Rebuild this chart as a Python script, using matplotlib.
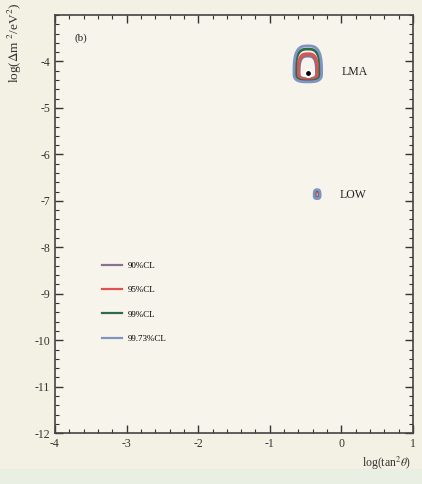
import numpy as np
import matplotlib.pyplot as plt
from matplotlib.lines import Line2D

# best fit points (log tan^2 theta, log dm^2) and 1-sigma widths
lma_best = (-0.47, -4.25)
lma_sig = (0.056, 0.17, 0.055)   # x, y upward, y downward
low_best = (-0.34, -6.88)
low_sig = (0.012, 0.035, 0.02)

cl_labels = ["90%CL", "95%CL", "99%CL", "99.73%CL"]
cl_dchi2 = [4.61, 5.99, 9.21, 11.83]
cl_colors = ["#8a6f96", "#e0524e", "#2f6b45", "#7f93c4"]

xticks = [-4, -3, -2, -1, 0, 1]
yticks = [-12, -11, -10, -9, -8, -7, -6, -5, -4]

plt.rcParams['font.family'] = ['Liberation Serif', 'DejaVu Serif']
plt.rcParams['mathtext.fontset'] = 'stix'
plt.rcParams['axes.unicode_minus'] = False


def chi2_surface(X, Y, best, sig, p=3.0):
    dx = (X - best[0]) / sig[0]
    sy = np.where(Y > best[1], sig[1], sig[2])
    dy = (Y - best[1]) / sy
    return (np.abs(dx) ** p + np.abs(dy) ** p) ** (2.0 / p)


fig = plt.figure(figsize=(4.22, 4.84), dpi=100, facecolor="#f3f1e4")
fig.patches.append(plt.Rectangle((0, 0), 1, 0.03, transform=fig.transFigure,
                                 color="#e9f0e3", zorder=-1))
ax = fig.add_axes([0.130, 0.105, 0.849, 0.864])
ax.set_facecolor("#f7f5eb")

x = np.linspace(-4, 1, 1200)
y = np.linspace(-12, -3, 1600)
X, Y = np.meshgrid(x, y)
for best, sig in [(lma_best, lma_sig), (low_best, low_sig)]:
    Z = chi2_surface(X, Y, best, sig)
    ax.contour(X, Y, Z, levels=cl_dchi2, colors=cl_colors, linewidths=2.0)

ax.plot(*lma_best, "o", color="black", ms=5, mec="white", mew=1.5)

ax.text(0.0, lma_best[1] + 0.03, "LMA", fontsize=8.5, va="center", color="#222222")
ax.text(-0.03, low_best[1], "LOW", fontsize=8.5, va="center", color="#222222")
ax.text(-3.73, -3.55, "(b)", fontsize=8, color="#222222")

handles = [Line2D([], [], color=c, lw=1.6) for c in cl_colors]
ax.legend(handles, cl_labels, loc="upper left", bbox_to_anchor=(0.12, 0.42),
          frameon=False, fontsize=6.5, handlelength=2.2, handletextpad=0.6,
          labelspacing=1.75, borderpad=0)

ax.set_xlim(-4, 1)
ax.set_ylim(-12, -3)
ax.set_xticks(xticks)
ax.set_yticks(yticks)
ax.set_xticks(np.arange(-4, 1.01, 0.2), minor=True)
ax.set_yticks(np.arange(-12, -2.99, 0.2), minor=True)
ax.tick_params(which="both", direction="in", top=True, right=True, labelsize=8.5,
               colors="#333333")
ax.tick_params(which="major", length=6, width=1)
ax.tick_params(which="minor", length=3, width=0.8)
for s in ax.spines.values():
    s.set_color("#444444")
    s.set_linewidth(1.2)

fig.text(0.975, 0.035, r"log(tan$^2\theta$)", ha="right", fontsize=8.5, color="#333333")
fig.text(0.035, 0.995, r"log($\Delta$m $^2$/eV$^2$)", rotation=90, ha="center",
         va="top", fontsize=9.5, color="#333333")

fig.savefig("out.png", dpi=100, facecolor=fig.get_facecolor())
